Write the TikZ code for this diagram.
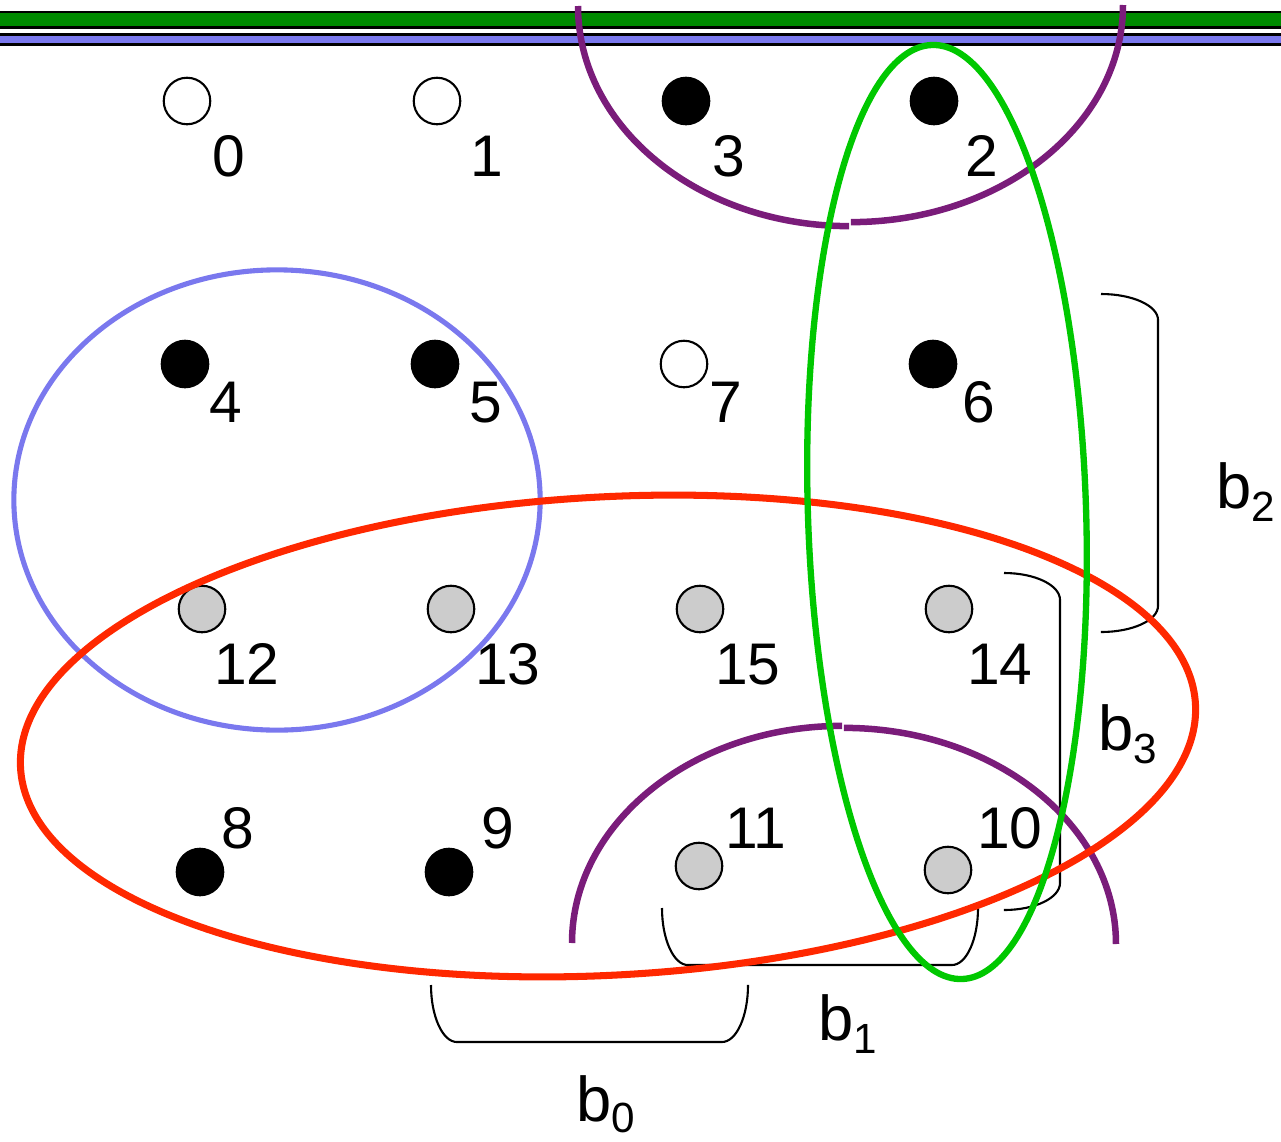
\documentclass[tikz,border=0pt]{standalone}
\usepackage{fontspec}
\setmainfont{Liberation Sans}
\definecolor{barGreen}{RGB}{0,138,0}
\definecolor{barBlue}{RGB}{122,120,238}
\definecolor{ellBlue}{RGB}{122,120,238}
\definecolor{ellRed}{RGB}{255,40,0}
\definecolor{ellGreen}{RGB}{0,200,0}
\definecolor{arcPurple}{RGB}{122,28,122}
\definecolor{dotGray}{RGB}{204,204,204}
\begin{document}
\begin{tikzpicture}[x=0.01cm,y=-0.01cm,
  dotbase/.style={circle,draw=black,line width=0.6pt,inner sep=0pt,minimum size=0.465cm},
  blackdot/.style={dotbase,fill=black},
  opendot/.style={dotbase,fill=white},
  graydot/.style={dotbase,fill=dotGray},
  numlabel/.style={anchor=base,inner sep=0pt,font=\fontsize{16.7}{20}\selectfont},
  blabel/.style={anchor=base west,inner sep=0pt,font=\fontsize{18}{21}\selectfont},
  bracketline/.style={draw=black,line width=0.6pt},
  thickcurve/.style={line width=1.85pt}]
\useasboundingbox (0,0) rectangle (1281,1142);
% bars
\fill[black] (0,11) rectangle (1281,28.5);
\fill[barGreen] (0,13) rectangle (1281,26.3);
\fill[black] (0,33) rectangle (1281,46);
\fill[barBlue] (0,36.3) rectangle (1281,43.3);
% brackets
\draw[bracketline] (1101,294) arc[start angle=90,end angle=0,x radius=0.57cm,y radius=0.26cm]
  -- (1158,606) arc[start angle=0,end angle=-90,x radius=0.57cm,y radius=0.26cm];
\draw[bracketline] (1004,573) arc[start angle=90,end angle=0,x radius=0.56cm,y radius=0.27cm]
  -- (1060,883) arc[start angle=0,end angle=-90,x radius=0.56cm,y radius=0.27cm];
\draw[bracketline] (662,908) arc[start angle=180,end angle=270,x radius=0.26cm,y radius=0.57cm]
  -- (952,965) arc[start angle=270,end angle=360,x radius=0.26cm,y radius=0.57cm];
\draw[bracketline] (431,985) arc[start angle=180,end angle=270,x radius=0.26cm,y radius=0.57cm]
  -- (722,1042) arc[start angle=270,end angle=360,x radius=0.26cm,y radius=0.57cm];
% dots
\node[opendot]  (n0)  at (187,101) {};
\node[opendot]  (n1)  at (437,101) {};
\node[blackdot] (n3)  at (686,101) {};
\node[blackdot] (n2)  at (934,101) {};
\node[blackdot] (n4)  at (185,364) {};
\node[blackdot] (n5)  at (435,364) {};
\node[opendot]  (n7)  at (684,364) {};
\node[blackdot] (n6)  at (933,364) {};
\node[graydot]  (n12) at (202,609) {};
\node[graydot]  (n13) at (451,609) {};
\node[graydot]  (n15) at (700,609) {};
\node[graydot]  (n14) at (949,609) {};
\node[blackdot] (n8)  at (200,872) {};
\node[blackdot] (n9)  at (449,872) {};
\node[graydot]  (n11) at (699,866) {};
\node[graydot]  (n10) at (948,870) {};
% ellipses
\draw[ellBlue,line width=1.45pt] (277,500) ellipse[x radius=2.63cm,y radius=2.30cm];
\draw[arcPurple,thickcurve] (578,6) arc[start angle=180,end angle=270,x radius=2.71cm,y radius=2.20cm];
\draw[arcPurple,thickcurve] (1123,5) arc[start angle=0,end angle=-90,x radius=2.72cm,y radius=2.17cm];
\draw[arcPurple,thickcurve] (572,943) arc[start angle=180,end angle=90,x radius=2.70cm,y radius=2.17cm];
\draw[arcPurple,thickcurve] (1116,944) arc[start angle=0,end angle=90,x radius=2.72cm,y radius=2.16cm];
\draw[ellRed,line width=2pt,rotate around={3.1:(608,736)}] (608,736) ellipse[x radius=5.88cm,y radius=2.39cm];
\draw[ellGreen,line width=1.8pt,rotate around={1.84:(947,512)}] (947,512) ellipse[x radius=1.39cm,y radius=4.67cm];
% number labels
\node[numlabel] (l0)  at (229,176) {0};
\node[numlabel] (l1)  at (487,176) {1};
\node[numlabel] (l3)  at (729,176) {3};
\node[numlabel] (l2)  at (982,176) {2};
\node[numlabel] (l4)  at (226,422) {4};
\node[numlabel] (l5)  at (486,422) {5};
\node[numlabel] (l7)  at (726,422) {7};
\node[numlabel] (l6)  at (979,422) {6};
\node[numlabel] (l12) at (247,684) {12};
\node[numlabel] (l13) at (508,684) {13};
\node[numlabel] (l15) at (748,684) {15};
\node[numlabel] (l14) at (1000,684) {14};
\node[numlabel] (l8)  at (238,848) {8};
\node[numlabel] (l9)  at (498,848) {9};
\node[numlabel] (l11) at (756,848) {11};
\node[numlabel] (l10) at (1010,848) {10};
% bracket labels
\node[blabel] (b0) at (576,1121) {b\raisebox{-0.18em}{\fontsize{12}{14}\selectfont 0}};
\node[blabel] (b1) at (818,1040) {b\raisebox{-0.22em}{\fontsize{12}{14}\selectfont 1}};
\node[blabel] (b2) at (1216,508) {b\raisebox{-0.22em}{\fontsize{12}{14}\selectfont 2}};
\node[blabel] (b3) at (1098,750) {b\raisebox{-0.22em}{\fontsize{12}{14}\selectfont 3}};
\end{tikzpicture}
\end{document}
